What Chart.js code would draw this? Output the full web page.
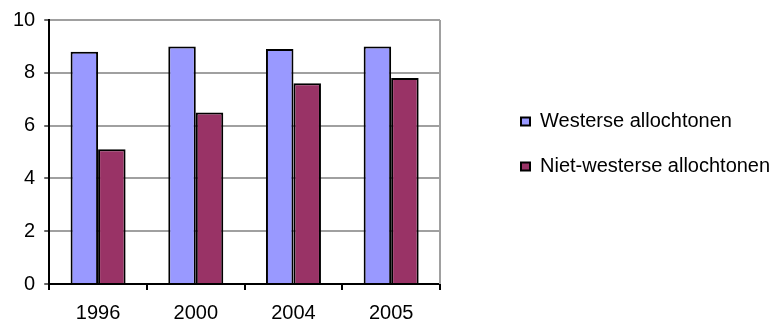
<!DOCTYPE html>
<html>
<head>
<meta charset="utf-8">
<script src="https://cdn.jsdelivr.net/npm/chart.js@4"></script>
<style>
  html, body { margin: 0; padding: 0; background: #fff; }
  canvas { display: block; }
</style>
</head>
<body>
<canvas id="chart" width="782" height="322"></canvas>
<script>
// Data
const years = ['1996', '2000', '2004', '2005'];
const westers = [8.8, 9.0, 8.9, 9.0];
const nietWesters = [5.1, 6.5, 7.6, 7.8];
const seriesNames = ['Westerse allochtonen', 'Niet-westerse allochtonen'];
const yTicks = [0, 2, 4, 6, 8, 10];

const font = { family: 'Liberation Sans, Arial, sans-serif', size: 20, lineHeight: 1 };

// grey frame on the right side of the plot area
const plotFrame = {
  id: 'plotFrame',
  afterDraw(chart) {
    const { ctx, chartArea } = chart;
    ctx.save();
    ctx.strokeStyle = '#a0a0a0';
    ctx.lineWidth = 2;
    ctx.beginPath();
    ctx.moveTo(chartArea.right, chartArea.top);
    ctx.lineTo(chartArea.right, chartArea.bottom);
    ctx.stroke();
    ctx.restore();
  }
};

// wide legend column, items pushed away from the plot
const legendPlace = {
  id: 'legendPlace',
  beforeLayout(chart) {
    const lg = chart.legend;
    if (lg && !lg._wide) {
      const fit = lg.fit;
      lg.fit = function () { fit.call(this); this.width = 342; };
      lg._wide = true;
    }
  },
  afterLayout(chart) {
    const lg = chart.legend;
    lg.left += 56;
    lg.top -= 34; lg.bottom -= 34;
  }
};

new Chart(document.getElementById('chart'), {
  type: 'bar',
  data: {
    labels: years,
    datasets: [
      { label: seriesNames[0], data: westers, backgroundColor: '#9999ff', borderColor: '#000', borderWidth: 2 },
      { label: seriesNames[1], data: nietWesters, backgroundColor: '#993366', borderColor: '#000', borderWidth: 2 }
    ]
  },
  options: {
    responsive: false,
    animation: false,
    layout: { padding: { left: 4, top: 20, bottom: -14, right: 0 } },
    datasets: { bar: { categoryPercentage: 0.563, barPercentage: 1 } },
    scales: {
      x: {
        grid: { drawOnChartArea: false, tickLength: 6, tickColor: '#000', lineWidth: 2 },
        border: { color: '#000', width: 2 },
        ticks: { color: '#000', font: font, padding: 13 }
      },
      y: {
        min: 0, max: 10,
        afterBuildTicks(axis) { axis.ticks = yTicks.map(v => ({ value: v })); },
        grid: { color: '#a0a0a0', lineWidth: 2, tickLength: 5, tickColor: '#666' },
        border: { color: '#000', width: 2 },
        ticks: { color: '#000', font: font, padding: 9 }
      }
    },
    plugins: {
      tooltip: { enabled: false },
      legend: {
        position: 'right',
        labels: {
          color: '#000',
          font: { family: font.family, size: 20 },
          boxWidth: 9,
          boxHeight: 8,
          padding: 25
        }
      }
    }
  },
  plugins: [plotFrame, legendPlace]
});
</script>
</body>
</html>
